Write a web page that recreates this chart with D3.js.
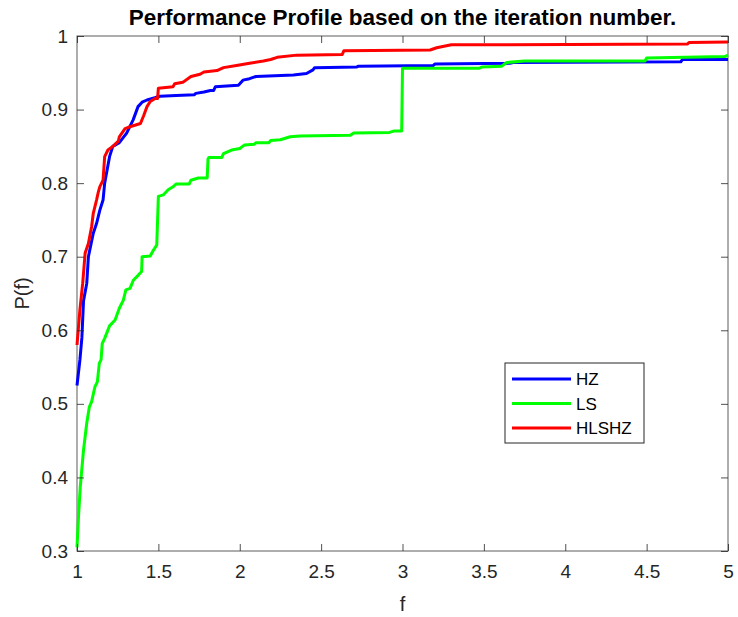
<!DOCTYPE html>
<html>
<head>
<meta charset="utf-8">
<script src="https://cdn.jsdelivr.net/npm/d3@7"></script>
<style>
  body { margin: 0; background: #fff; }
  svg { font-family: "Liberation Sans", Arial, sans-serif; }
</style>
</head>
<body>
<svg id="chart" width="738" height="617"></svg>
<script>
// performance profile curves, vertices (f, P(f))
var hzF  = [1, 1.018, 1.03, 1.04, 1.06, 1.07, 1.1, 1.12, 1.14, 1.16, 1.17, 1.2, 1.22, 1.26, 1.305, 1.345, 1.375, 1.40, 1.43, 1.49, 1.51, 1.61, 1.72, 1.73, 1.78, 1.82, 1.84, 1.85, 1.99, 2.0, 2.02, 2.06, 2.10, 2.33, 2.41, 2.45, 2.46, 2.72, 2.73, 3.19, 3.20, 3.66, 3.68, 4.71, 4.72, 5];
var hzP  = [0.525, 0.56, 0.59, 0.64, 0.664, 0.70, 0.732, 0.745, 0.763, 0.777, 0.80, 0.836, 0.85, 0.855, 0.868, 0.886, 0.904, 0.91, 0.913, 0.917, 0.918, 0.919, 0.92, 0.922, 0.924, 0.926, 0.926, 0.931, 0.933, 0.935, 0.94, 0.942, 0.945, 0.947, 0.949, 0.954, 0.957, 0.958, 0.959, 0.960, 0.962, 0.963, 0.964, 0.965, 0.968, 0.968];

var lsF  = [1, 1.01, 1.02, 1.04, 1.06, 1.076, 1.09, 1.11, 1.125, 1.137, 1.148, 1.155, 1.17, 1.2, 1.234, 1.26, 1.285, 1.30, 1.326, 1.346, 1.377, 1.397, 1.40, 1.45, 1.47, 1.49, 1.50, 1.53, 1.56, 1.59, 1.61, 1.69, 1.70, 1.745, 1.80, 1.805, 1.81, 1.89, 1.90, 1.95, 2.0, 2.03, 2.09, 2.10, 2.18, 2.19, 2.25, 2.28, 2.31, 2.37, 2.68, 2.70, 2.92, 2.95, 2.995, 3.0, 3.47, 3.49, 3.61, 3.64, 3.75, 4.49, 4.5, 4.98, 5];
var lsP  = [0.305, 0.35, 0.387, 0.437, 0.474, 0.496, 0.503, 0.523, 0.53, 0.555, 0.56, 0.582, 0.589, 0.606, 0.614, 0.63, 0.641, 0.655, 0.657, 0.668, 0.675, 0.68, 0.70, 0.701, 0.709, 0.716, 0.782, 0.784, 0.791, 0.795, 0.799, 0.799, 0.804, 0.807, 0.807, 0.833, 0.835, 0.835, 0.84, 0.845, 0.847, 0.852, 0.853, 0.855, 0.855, 0.858, 0.859, 0.861, 0.863, 0.864, 0.865, 0.868, 0.869, 0.871, 0.871, 0.956, 0.956, 0.958, 0.959, 0.964, 0.966, 0.966, 0.970, 0.972, 0.974];

var hlsF = [1, 1.018, 1.035, 1.05, 1.07, 1.09, 1.10, 1.12, 1.13, 1.14, 1.16, 1.17, 1.19, 1.22, 1.254, 1.26, 1.295, 1.33, 1.39, 1.41, 1.43, 1.45, 1.48, 1.495, 1.5, 1.59, 1.6, 1.65, 1.70, 1.756, 1.78, 1.86, 1.9, 1.98, 2.06, 2.145, 2.19, 2.23, 2.35, 2.63, 2.64, 3.17, 3.21, 3.30, 4.75, 4.76, 5];
var hlsP = [0.58, 0.628, 0.664, 0.705, 0.718, 0.741, 0.759, 0.777, 0.787, 0.795, 0.804, 0.836, 0.845, 0.85, 0.857, 0.863, 0.874, 0.877, 0.881, 0.892, 0.904, 0.911, 0.915, 0.915, 0.929, 0.931, 0.935, 0.937, 0.945, 0.948, 0.951, 0.953, 0.957, 0.96, 0.963, 0.966, 0.968, 0.971, 0.974, 0.975, 0.98, 0.981, 0.984, 0.988, 0.989, 0.991, 0.992];

var names  = ["HZ", "LS", "HLSHZ"];
var colors = ["#0000ff", "#00ff00", "#ff0000"];
var xTicks = [1, 1.5, 2, 2.5, 3, 3.5, 4, 4.5, 5];
var yTicks = [0.3, 0.4, 0.5, 0.6, 0.7, 0.8, 0.9, 1];

(function () {
  var pl = 77, pr = 728, pt = 36, pb = 551;
  var svg = d3.select("#chart");
  var axisColor = "#262626";

  var x = d3.scaleLinear().domain([1, 5]).range([pl, pr]);
  var y = d3.scaleLinear().domain([0.3, 1]).range([pb, pt]);

  var series = [
    d3.zip(hzF, hzP),
    d3.zip(lsF, lsP),
    d3.zip(hlsF, hlsP)
  ];

  // box
  svg.append("rect")
    .attr("x", pl).attr("y", pt)
    .attr("width", pr - pl).attr("height", pb - pt)
    .attr("fill", "none").attr("stroke", axisColor).attr("stroke-width", 1)
    .attr("opacity", 0.75);

  var line = d3.line()
    .x(function (d) { return x(d[0]); })
    .y(function (d) { return y(d[1]); });

  svg.selectAll("path.series")
    .data(series)
    .enter().append("path")
    .attr("class", "series")
    .attr("fill", "none")
    .attr("stroke", function (d, i) { return colors[i]; })
    .attr("stroke-width", 3)
    .attr("stroke-linejoin", "round")
    .attr("d", line);

  function styleAxis(g) {
    g.select(".domain").remove();
    g.selectAll(".tick line").attr("stroke", axisColor).attr("opacity", 0.8);
    g.selectAll(".tick text")
      .attr("fill", axisColor)
      .style("font-size", "19px");
  }

  svg.append("g")
    .attr("transform", "translate(0," + pb + ")")
    .call(d3.axisBottom(x).tickValues(xTicks).tickSize(-7).tickPadding(14)
      .tickFormat(d3.format("")))
    .call(styleAxis);
  svg.append("g")
    .attr("transform", "translate(0," + pt + ")")
    .call(d3.axisTop(x).tickValues(xTicks).tickSize(-7).tickFormat(""))
    .call(styleAxis);
  svg.append("g")
    .attr("transform", "translate(" + pl + ",0)")
    .call(d3.axisLeft(y).tickValues(yTicks).tickSize(-7).tickPadding(9)
      .tickFormat(function (d) { return d === 1 ? "1" : d3.format(".1f")(d); }))
    .call(styleAxis);
  svg.append("g")
    .attr("transform", "translate(" + pr + ",0)")
    .call(d3.axisRight(y).tickValues(yTicks).tickSize(-7).tickFormat(""))
    .call(styleAxis);

  // title and axis labels
  svg.append("text")
    .attr("x", (pl + pr) / 2).attr("y", 25)
    .attr("text-anchor", "middle")
    .style("font-size", "22.5px").style("font-weight", "bold")
    .attr("fill", "#000")
    .text("Performance Profile based on the iteration number.");

  svg.append("text")
    .attr("x", (pl + pr) / 2).attr("y", 611)
    .attr("text-anchor", "middle")
    .style("font-size", "20px").attr("fill", axisColor)
    .text("f");

  svg.append("text")
    .attr("transform", "translate(29," + ((pt + pb) / 2) + ") rotate(-90)")
    .attr("text-anchor", "middle")
    .style("font-size", "20px").attr("fill", axisColor)
    .text("P(f)");

  // legend
  var lg = svg.append("g").attr("transform", "translate(505,363)");
  lg.append("rect")
    .attr("width", 139).attr("height", 80)
    .attr("fill", "#fff").attr("stroke", axisColor).attr("stroke-width", 1);
  var items = lg.selectAll("g.item")
    .data(names)
    .enter().append("g")
    .attr("class", "item")
    .attr("transform", function (d, i) { return "translate(0," + (16 + i * 24.5) + ")"; });
  items.append("line")
    .attr("x1", 7).attr("x2", 66)
    .attr("stroke", function (d, i) { return colors[i]; })
    .attr("stroke-width", 3);
  items.append("text")
    .attr("x", 71).attr("y", 6)
    .style("font-size", "17px").attr("fill", "#000")
    .text(function (d) { return d; });
})();
</script>
</body>
</html>
